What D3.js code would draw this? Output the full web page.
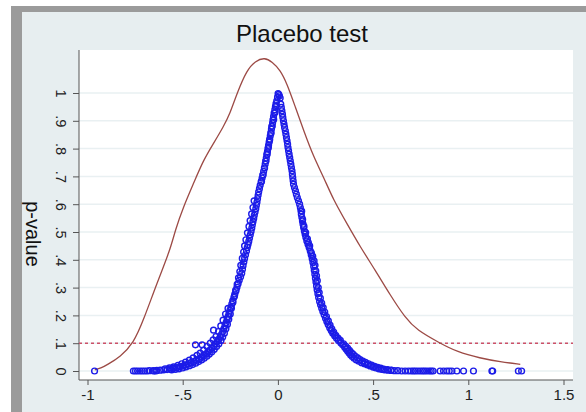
<!DOCTYPE html>
<html>
<head>
<meta charset="utf-8">
<script src="https://cdn.jsdelivr.net/npm/d3@7"></script>
<style>
  body { margin: 0; background: #fff; }
  svg { display: block; font-family: "Liberation Sans", Arial, sans-serif; }
</style>
</head>
<body>
<div id="chart"></div>
<script>
const title = "Placebo test"
const yTitle = "p-value"
const coefTicks = [-1, -0.5, 0, 0.5, 1, 1.5]
const pTicks = [0, 0.1, 0.2, 0.3, 0.4, 0.5, 0.6, 0.7, 0.8, 0.9, 1]
const pCutoff = 0.1

// kernel density of placebo coefficients (drawn on the p-value scale)
const densityCurve = [
  [-0.962, 0.004], [-0.930, 0.010], [-0.898, 0.022], [-0.828, 0.051], [-0.758, 0.100], [-0.706, 0.183],
  [-0.636, 0.315], [-0.566, 0.435], [-0.539, 0.507], [-0.496, 0.591], [-0.443, 0.675],
  [-0.391, 0.759], [-0.338, 0.819], [-0.286, 0.879], [-0.251, 0.927], [-0.215, 0.999],
  [-0.163, 1.083], [-0.119, 1.115], [-0.070, 1.128], [-0.030, 1.112], [0.012, 1.083],
  [0.047, 1.035], [0.091, 0.951], [0.134, 0.867], [0.187, 0.771], [0.239, 0.699],
  [0.292, 0.615], [0.362, 0.531], [0.432, 0.447], [0.511, 0.363], [0.590, 0.273],
  [0.669, 0.191], [0.730, 0.147], [0.852, 0.100], [0.940, 0.069], [1.063, 0.046],
  [1.168, 0.033], [1.273, 0.024]
]

// placebo estimates: [coefficient, p-value]
const leftBranch = [
  [0.001,0.998],[-0.002,0.985],[-0.006,0.972],[-0.010,0.962],[-0.013,0.951],[-0.016,0.940],
  [-0.020,0.928],[-0.023,0.915],[-0.026,0.903],[-0.028,0.892],[-0.032,0.880],[-0.034,0.870],
  [-0.037,0.858],[-0.040,0.846],[-0.043,0.834],[-0.046,0.823],[-0.049,0.812],[-0.052,0.800],
  [-0.055,0.789],[-0.058,0.778],[-0.061,0.766],[-0.064,0.755],[-0.067,0.744],[-0.071,0.731],
  [-0.075,0.718],[-0.079,0.706],[-0.083,0.694],[-0.088,0.680],[-0.093,0.668],[-0.097,0.656],
  [-0.101,0.644],[-0.104,0.632],[-0.107,0.620],[-0.110,0.607],[-0.113,0.596],[-0.116,0.584],
  [-0.120,0.572],[-0.124,0.560],[-0.127,0.549],[-0.131,0.537],[-0.134,0.526],[-0.137,0.514],
  [-0.141,0.502],[-0.145,0.490],[-0.149,0.478],[-0.153,0.466],[-0.157,0.455],[-0.161,0.444],
  [-0.165,0.432],[-0.170,0.418],[-0.175,0.405],[-0.179,0.392],[-0.183,0.379],[-0.186,0.366],
  [-0.190,0.352],[-0.196,0.339],[-0.203,0.326],[-0.209,0.314],[-0.215,0.301],[-0.220,0.289],
  [-0.226,0.277],[-0.231,0.265],[-0.237,0.253],[-0.242,0.241],[-0.247,0.229],[-0.252,0.218],
  [-0.257,0.207],[-0.262,0.196],[-0.267,0.185],[-0.272,0.174],[-0.278,0.163],[-0.284,0.152],
  [-0.290,0.142],[-0.296,0.132],[-0.303,0.123],[-0.311,0.114],[-0.319,0.106],[-0.328,0.098],
  [-0.337,0.090],[-0.346,0.083],[-0.356,0.076],[-0.367,0.069],[-0.378,0.062],[-0.390,0.056],
  [-0.402,0.050],[-0.415,0.044],[-0.428,0.039],[-0.442,0.034],[-0.456,0.030],[-0.470,0.026],
  [-0.485,0.022],[-0.500,0.018],[-0.516,0.015],[-0.532,0.012],[-0.548,0.010],[-0.565,0.007],
  [-0.582,0.005],[-0.600,0.004],[-0.618,0.003],[-0.636,0.002],[-0.655,0.001],[-0.675,0.001]
]
const leftSpread = [
  [-0.008,0.955],[-0.015,0.930],[-0.022,0.905],[-0.030,0.880],[-0.036,0.855],[-0.044,0.830],
  [-0.050,0.805],[-0.057,0.780],[-0.063,0.755],[-0.070,0.730],[-0.078,0.705],[-0.086,0.683],
  [-0.125,0.612],[-0.131,0.588],[-0.138,0.565],[-0.146,0.541],[-0.152,0.520],[-0.160,0.497],
  [-0.168,0.472],[-0.175,0.450],[-0.180,0.428],[-0.187,0.405],[-0.195,0.380],[-0.200,0.358],
  [-0.207,0.335],[-0.214,0.312],[-0.222,0.290],[-0.228,0.270],[-0.236,0.247],[-0.244,0.226],
  [-0.250,0.205],[-0.258,0.186],[-0.265,0.168],[-0.273,0.152],[-0.281,0.136],[-0.290,0.122],
  [-0.299,0.110],[-0.310,0.098],[-0.322,0.088],[-0.334,0.078],[-0.347,0.069],[-0.360,0.061],
  [-0.373,0.053],[-0.387,0.046],[-0.401,0.040],[-0.416,0.034],[-0.432,0.028],[-0.448,0.023],
  [-0.465,0.019],[-0.482,0.015],[-0.500,0.011],[-0.519,0.008],[-0.538,0.006],[-0.558,0.004],
  [-0.262,0.225],[-0.275,0.205],[-0.288,0.183],[-0.300,0.162],[-0.312,0.142],[-0.325,0.124],
  [-0.340,0.112],[-0.355,0.100],[-0.372,0.088],[-0.390,0.075],[-0.408,0.064],[-0.425,0.056],
  [-0.445,0.047],[-0.465,0.039],[-0.485,0.032],[-0.505,0.026],[-0.525,0.020],[-0.548,0.015],
  [-0.570,0.011],[-0.592,0.008],[-0.433,0.094],[-0.398,0.094],[-0.338,0.147]
]
const rightBranch = [
  [0.004,0.995],[0.008,0.990],[0.012,0.982],[0.015,0.960],[0.018,0.948],[0.021,0.936],
  [0.024,0.924],[0.026,0.912],[0.029,0.900],[0.032,0.888],[0.035,0.876],[0.039,0.864],
  [0.042,0.852],[0.045,0.840],[0.048,0.828],[0.051,0.816],[0.053,0.804],[0.056,0.792],
  [0.059,0.780],[0.062,0.768],[0.065,0.756],[0.068,0.744],[0.071,0.732],[0.074,0.720],
  [0.076,0.708],[0.078,0.696],[0.080,0.684],[0.082,0.672],[0.087,0.660],[0.092,0.648],
  [0.097,0.636],[0.102,0.624],[0.108,0.612],[0.114,0.600],[0.118,0.588],[0.121,0.576],
  [0.123,0.564],[0.126,0.552],[0.129,0.540],[0.132,0.528],[0.135,0.516],[0.139,0.504],
  [0.143,0.492],[0.147,0.480],[0.152,0.468],[0.158,0.456],[0.164,0.444],[0.170,0.432],
  [0.175,0.418],[0.180,0.404],[0.184,0.390],[0.188,0.376],[0.191,0.362],[0.194,0.348],
  [0.197,0.334],[0.200,0.320],[0.203,0.306],[0.206,0.292],[0.210,0.278],[0.214,0.264],
  [0.219,0.250],[0.224,0.238],[0.230,0.226],[0.236,0.214],[0.243,0.202],[0.250,0.190],
  [0.257,0.178],[0.264,0.167],[0.272,0.156],[0.280,0.146],[0.288,0.136],[0.298,0.127],
  [0.308,0.118],[0.318,0.110],[0.330,0.102],[0.340,0.094],[0.350,0.086],[0.358,0.079],
  [0.366,0.072],[0.374,0.065],[0.382,0.058],[0.390,0.052],[0.400,0.046],[0.412,0.040],
  [0.425,0.035],[0.440,0.030],[0.455,0.026],[0.470,0.022],[0.485,0.018],[0.500,0.014],
  [0.515,0.011],[0.530,0.008],[0.545,0.006],[0.560,0.004],[0.578,0.003],[0.595,0.002],
  [0.612,0.001],[0.630,0.001]
]
const rightSpread = [
  [0.125,0.575],[0.130,0.545],[0.137,0.520],[0.146,0.498],[0.155,0.475],[0.160,0.462],
  [0.167,0.450],[0.176,0.425],[0.183,0.412],[0.190,0.396],[0.195,0.380],[0.199,0.360],
  [0.203,0.342],[0.207,0.325],[0.212,0.300],[0.217,0.282],[0.223,0.262],[0.230,0.244],
  [0.238,0.228],[0.246,0.212],[0.255,0.196],[0.265,0.180],[0.274,0.165],[0.283,0.152],
  [0.293,0.140],[0.304,0.128],[0.316,0.118],[0.328,0.110],[0.345,0.098],[0.356,0.090],
  [0.366,0.082],[0.376,0.074],[0.386,0.066],[0.396,0.060],[0.407,0.053],[0.419,0.047],
  [0.432,0.041],[0.446,0.036],[0.460,0.031],[0.476,0.026],[0.492,0.021],[0.508,0.017],
  [0.524,0.013],[0.540,0.010],[0.556,0.007],[0.575,0.005],[0.595,0.003]
]
const zeroTail = [
  [-0.963,0],[-0.759,0],[-0.748,0],[-0.737,0],[-0.724,0],[-0.712,0],[-0.700,0],[-0.688,0],
  [-0.650,0],[-0.640,0],[0.650,0],[0.668,0],[0.685,0],[0.700,0],[0.712,0],[0.722,0],
  [0.735,0],[0.748,0],[0.760,0],[0.770,0],[0.782,0],[0.795,0],[0.805,0],[0.815,0],
  [0.852,0],[0.870,0],[0.887,0],[0.900,0],[0.914,0],[0.940,0],[0.975,0],[1.027,0],
  [1.124,0],[1.128,0],[1.263,0],[1.280,0]
]

const width = 586
const height = 412
const plot = {left: 79, right: 573, top: 50, bottom: 380}

const fmt = d => String(d).replace(/^(-?)0\./, '$1.')

const svg = d3.select('#chart')
  .append('svg')
  .attr('width', width)
  .attr('height', height)

svg.append('rect').attr('width', width).attr('height', height).attr('fill', '#fff')
svg.append('rect').attr('x', 11).attr('y', 6).attr('width', width - 11).attr('height', height - 6).attr('fill', '#9b9b9b')
svg.append('rect').attr('x', 22).attr('y', 12).attr('width', width - 22).attr('height', height - 12).attr('fill', '#e7eef0')
svg.append('rect')
  .attr('x', plot.left).attr('y', plot.top)
  .attr('width', plot.right - plot.left).attr('height', plot.bottom - plot.top)
  .attr('fill', '#fff')

const xScale = d3.scaleLinear().domain([-1, 1.5]).range([87.5, 563.5])
const yScale = d3.scaleLinear().domain([0, 1]).range([371, 93])

// grid
svg.append('g')
  .selectAll('line')
  .data(pTicks)
  .join('line')
  .attr('x1', plot.left).attr('x2', plot.right)
  .attr('y1', d => yScale(d)).attr('y2', d => yScale(d))
  .attr('stroke', '#e9f0f2')
  .attr('stroke-width', 1.5)

// axes
const xAxis = d3.axisBottom(xScale).tickValues(coefTicks).tickFormat(fmt).tickSize(5).tickPadding(4)
const yAxis = d3.axisLeft(yScale).tickValues(pTicks).tickFormat(fmt).tickSize(6).tickPadding(0)

const xAxisG = svg.append('g')
  .attr('transform', `translate(0,${plot.bottom})`)
  .call(xAxis)
xAxisG.select('.domain').attr('d', `M${plot.left},0H${plot.right}`)
xAxisG.selectAll('text')
  .attr('font-size', 15)
  .attr('fill', '#222')
  .attr('font-family', '"Liberation Sans", Arial, sans-serif')

const yAxisG = svg.append('g')
  .attr('transform', `translate(${plot.left},0)`)
  .call(yAxis)
yAxisG.select('.domain').attr('d', `M0,${plot.top}V${plot.bottom}`)
yAxisG.selectAll('text')
  .attr('x', null).attr('dy', null)
  .attr('text-anchor', 'middle')
  .attr('dominant-baseline', 'central')
  .attr('transform', 'translate(-18,0) rotate(90)')
  .attr('font-size', 14.5)
  .attr('fill', '#222')
  .attr('font-family', '"Liberation Sans", Arial, sans-serif')

svg.selectAll('.domain, .tick line').attr('stroke', '#555')

// reference line at p = 0.1
svg.append('line')
  .attr('x1', plot.left).attr('x2', plot.right)
  .attr('y1', yScale(pCutoff)).attr('y2', yScale(pCutoff))
  .attr('stroke', '#cc5068')
  .attr('stroke-width', 1.6)
  .attr('stroke-dasharray', '3,3')

// density
const line = d3.line()
  .x(d => xScale(d[0]))
  .y(d => yScale(d[1]))
  .curve(d3.curveBasis)

svg.append('path')
  .datum(densityCurve)
  .attr('d', line)
  .attr('fill', 'none')
  .attr('stroke', '#9c4a45')
  .attr('stroke-width', 1.3)

// scatter
const points = [].concat(leftBranch, leftSpread, rightBranch, rightSpread, zeroTail)
svg.append('g')
  .selectAll('circle')
  .data(points)
  .join('circle')
  .attr('cx', d => xScale(d[0]))
  .attr('cy', d => yScale(d[1]))
  .attr('r', 2.9)
  .attr('fill', 'none')
  .attr('stroke', '#1c1ce8')
  .attr('stroke-width', 1.4)

svg.append('text')
  .attr('x', 302)
  .attr('y', 42)
  .attr('text-anchor', 'middle')
  .attr('font-size', 24)
  .attr('fill', '#111')
  .text(title)

svg.append('text')
  .attr('transform', 'translate(33,234) rotate(90)')
  .attr('text-anchor', 'middle')
  .attr('dominant-baseline', 'central')
  .attr('font-size', 20)
  .attr('fill', '#111')
  .text(yTitle)
</script>
</body>
</html>
